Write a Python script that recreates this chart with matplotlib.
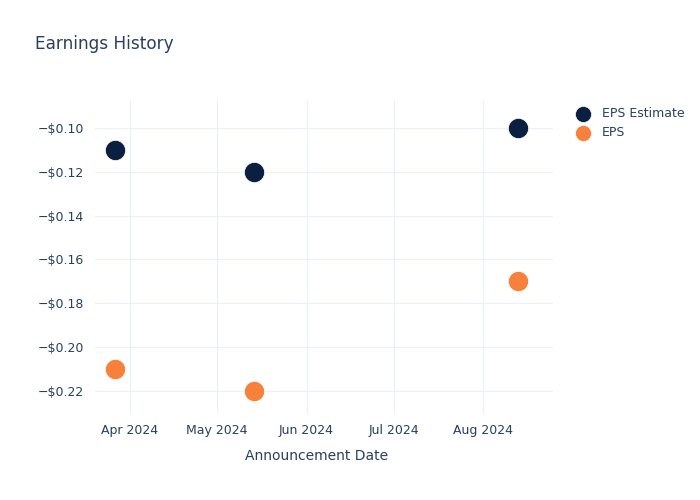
import matplotlib
matplotlib.use("Agg")
import matplotlib.pyplot as plt
import matplotlib.dates as mdates
import pandas as pd

dates = pd.to_datetime(["2024-03-27", "2024-05-14", "2024-08-13"])
eps_estimate = [-0.11, -0.12, -0.10]
eps_actual = [-0.21, -0.22, -0.17]
y_ticks = [-0.10, -0.12, -0.14, -0.16, -0.18, -0.20, -0.22]

text_color = "#2a3f5f"
grid_color = "#ebf0f8"

fig = plt.figure(figsize=(7, 5), dpi=100)
ax = fig.add_axes([95 / 700, 1 - 413 / 500, (553 - 95) / 700, (413 - 100) / 500])

ax.scatter(dates, eps_estimate, s=210, color="#0b1f41", label="EPS Estimate",
           zorder=3, edgecolors="white", linewidths=0.5)
ax.scatter(dates, eps_actual, s=210, color="#f7813a", label="EPS",
           zorder=3, edgecolors="white", linewidths=0.5)

ax.set_xlim(pd.Timestamp("2024-03-20"), pd.Timestamp("2024-08-25"))
ax.set_ylim(-0.2302, -0.0872)
ax.set_yticks(y_ticks)
ax.set_yticklabels([f"\u2212${abs(v):.2f}" for v in y_ticks])
ax.xaxis.set_major_locator(mdates.MonthLocator())
ax.xaxis.set_major_formatter(mdates.DateFormatter("%b %Y"))

ax.grid(True, color=grid_color, linewidth=0.8)
ax.set_axisbelow(True)
for sp in ax.spines.values():
    sp.set_visible(False)
ax.tick_params(length=0, colors=text_color, labelsize=9, pad=8)

ax.set_xlabel("Announcement Date", color=text_color, fontsize=10)
ax.xaxis.set_label_coords((317 - 95) / (553 - 95), -(456 - 413) / 313)
ax.xaxis.label.set_va("center")
fig.text(35 / 700, 1 - 44 / 500, "Earnings History", color=text_color,
         fontsize=12.2, va="center", ha="left")

leg = ax.legend(loc="upper left", bbox_to_anchor=(1.024, 1.0), frameon=False,
                fontsize=9, labelcolor=text_color, handletextpad=0.5,
                borderaxespad=0.15, labelspacing=0.48, markerscale=0.8)

fig.savefig("out.png", dpi=100)
